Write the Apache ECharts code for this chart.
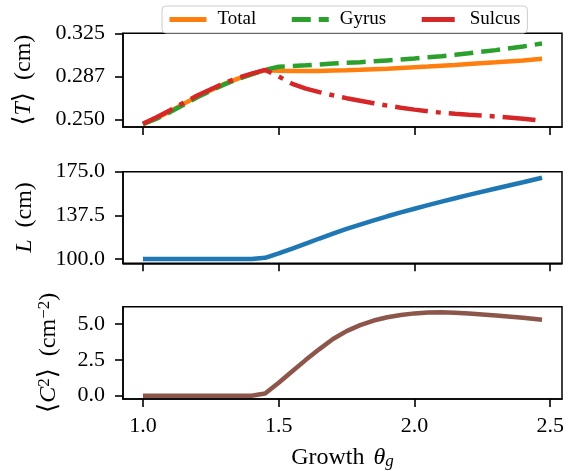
<!DOCTYPE html>
<html>
<head>
<meta charset="utf-8">
<script src="https://cdn.jsdelivr.net/npm/echarts@6/dist/echarts.min.js"></script>
<style>
html,body{margin:0;padding:0;background:#fff;}
#chart{width:579px;height:471px;}
</style>
</head>
<body>
<div id="chart"></div>
<script>
// ---- data ----
var theta   = [1.00,1.05,1.10,1.15,1.20,1.25,1.30,1.35,1.40,1.45,1.50,1.55,1.60,1.65,1.70,1.75,1.80,1.85,1.90,1.95,2.00,2.05,2.10,2.15,2.20,2.30,2.40,2.47];
var totalT  = [0.2460,0.2510,0.2570,0.2635,0.2700,0.2755,0.2810,0.2855,0.2895,0.2930,0.2925,0.2922,0.2922,0.2923,0.2926,0.2929,0.2933,0.2938,0.2943,0.2949,0.2955,0.2961,0.2968,0.2975,0.2983,0.2998,0.3015,0.3030];
var gyrusT  = [0.2458,0.2505,0.2563,0.2628,0.2693,0.2750,0.2805,0.2852,0.2893,0.2932,0.2960,0.2966,0.2972,0.2980,0.2988,0.2994,0.3000,0.3007,0.3015,0.3023,0.3032,0.3042,0.3052,0.3064,0.3077,0.3105,0.3137,0.3163];
var sulcusT = [0.2462,0.2518,0.2580,0.2645,0.2708,0.2763,0.2818,0.2862,0.2900,0.2932,0.2875,0.2810,0.2768,0.2738,0.2710,0.2685,0.2663,0.2641,0.2620,0.2602,0.2585,0.2570,0.2558,0.2548,0.2540,0.2525,0.2505,0.2488];
var lengthL = [100,100,100,100,100,100,100,100,100,101.0,104.8,109.0,113.3,117.6,121.8,125.8,129.6,133.2,136.7,140.0,143.2,146.3,149.3,152.2,155.1,160.6,166.0,169.8];
var curvC2  = [0,0,0,0,0,0,0,0,0,0.15,0.90,1.70,2.50,3.25,3.95,4.50,4.92,5.24,5.47,5.63,5.74,5.80,5.82,5.79,5.73,5.60,5.44,5.30];

var xTicks = [1.0,1.5,2.0,2.5];
var xTickLabels = ['1.0','1.5','2.0','2.5'];
var tTicks = [0.25,0.2875,0.325];
var tTickLabels = ['0.250','0.287','0.325'];
var lTicks = [100,137.5,175];
var lTickLabels = ['100.0','137.5','175.0'];
var cTicks = [0,2.5,5];
var cTickLabels = ['0.0','2.5','5.0'];

var seriesNames = ['Total','Gyrus','Sulcus'];

// ---- chart ----
var FONT = "'Liberation Serif','DejaVu Serif',serif";
function pairs(ys){ return theta.map(function(x,i){ return [x, ys[i]]; }); }
function labelFor(vals, labs){
  return function(v){
    for (var i=0;i<vals.length;i++){ if (Math.abs(vals[i]-v) < 1e-9) return labs[i]; }
    return '';
  };
}
var grids = [
  {left:123, right:17, top:33.3, height:93.7},
  {left:123, right:17, top:171.7, height:91.6},
  {left:123, right:17, top:306.7, height:92.3}
];
grids.forEach(function(g){ g.show = true; g.borderColor = '#000'; g.borderWidth = 1.5; g.containLabel = false; });

function xAxis(idx, showLabels){
  var ax = {
    type:'value', gridIndex: idx, min: 0.9265, max: 2.5435,
    splitLine:{show:false},
    axisLine:{show:true, onZero:false, lineStyle:{color:'#000', width:1.5}},
    axisTick:{show:true, length:8, customValues:xTicks, lineStyle:{color:'#000', width:1.6}},
    axisLabel:{show:showLabels, customValues:xTicks, formatter:labelFor(xTicks,xTickLabels),
               margin:16, color:'#000', fontFamily:FONT, fontSize:22}
  };
  if (showLabels){
    ax.name = '{t|Growth }{i|θ}{s|g}';
    ax.nameLocation = 'middle';
    ax.nameGap = 47;
    ax.nameTextStyle = {color:'#000', rich:{
      t:{fontFamily:FONT, fontSize:24, color:'#000'},
      i:{fontFamily:FONT, fontSize:24, fontStyle:'italic', color:'#000', padding:[0,0,0,3]},
      s:{fontFamily:FONT, fontSize:17, fontStyle:'italic', color:'#000', verticalAlign:'bottom', lineHeight:6}
    }};
  }
  return ax;
}
function yAxis(idx, min, max, ticks, labs, name, gap, rich){
  return {
    type:'value', gridIndex: idx, min:min, max:max,
    splitLine:{show:false},
    axisLine:{show:true, onZero:false, lineStyle:{color:'#000', width:1.5}},
    axisTick:{show:true, length:8, customValues:ticks, lineStyle:{color:'#000', width:1.6}},
    axisLabel:{customValues:ticks, formatter:labelFor(ticks,labs), margin:18,
               color:'#000', fontFamily:FONT, fontSize:22},
    name:name, nameLocation:'middle', nameGap:gap, nameRotate:90,
    nameTextStyle:{color:'#000', rich:rich}
  };
}
var base = {fontFamily:FONT, fontSize:24, color:'#000'};
var brk  = {fontFamily:"'DejaVu Serif',serif", fontSize:26, color:'#000', fontWeight:'lighter'};
var ital = {fontFamily:FONT, fontSize:24, color:'#000', fontStyle:'italic'};
var sup  = {fontFamily:FONT, fontSize:17, color:'#000', verticalAlign:'top', lineHeight:6};

var chart = echarts.init(document.getElementById('chart'), null, {renderer:'canvas'});
chart.setOption({
  animation:false,
  backgroundColor:'#fff',
  legend:{
    data: seriesNames,
    left:162, top:6, orient:'horizontal',
    padding:[4,7,4,5], itemGap:33, itemWidth:37, itemHeight:14,
    borderColor:'#cccccc', borderWidth:1, borderRadius:4,
    backgroundColor:'rgba(255,255,255,0.85)',
    itemStyle:{opacity:0, borderWidth:0},
    lineStyle:{width:5},
    textStyle:{fontFamily:FONT, fontSize:19, color:'#000', padding:[0,0,0,6]}
  },
  grid: grids,
  xAxis: [xAxis(0,false), xAxis(1,false), xAxis(2,true)],
  yAxis: [
    yAxis(0, 0.2433, 0.3252, tTicks, tTickLabels, '{b|⟨}{i|T}{b|⟩}{a|  (cm)}', 86, {a:base, i:ital, b:brk}),
    yAxis(1, 96.3, 175.01, lTicks, lTickLabels, '{i|L}{a|  (cm)}', 86, {a:base, i:ital}),
    yAxis(2, -0.23, 6.206, cTicks, cTickLabels, '{b|⟨}{i|C}{p|2}{b|⟩}{a|  (cm}{p|−2}{a|)}', 61, {a:base, i:ital, p:sup, b:brk})
  ],
  series: [
    {name:'Total', type:'line', xAxisIndex:0, yAxisIndex:0, data:pairs(totalT), symbol:'none',
     lineStyle:{color:'#ff7f0e', width:4.5}, itemStyle:{color:'#ff7f0e'}, z:2},
    {name:'Gyrus', type:'line', xAxisIndex:0, yAxisIndex:0, data:pairs(gyrusT), symbol:'none',
     lineStyle:{color:'#2ca02c', width:4.5, type:[19,8], cap:'butt'}, itemStyle:{color:'#2ca02c'}, z:3},
    {name:'Sulcus', type:'line', xAxisIndex:0, yAxisIndex:0, data:pairs(sulcusT), symbol:'none',
     lineStyle:{color:'#d62728', width:4.5, type:[33,8,5,8], cap:'butt'}, itemStyle:{color:'#d62728'}, z:4},
    {name:'L', type:'line', xAxisIndex:1, yAxisIndex:1, data:pairs(lengthL), symbol:'none',
     lineStyle:{color:'#1f77b4', width:4.5}, itemStyle:{color:'#1f77b4'}},
    {name:'C2', type:'line', xAxisIndex:2, yAxisIndex:2, data:pairs(curvC2), symbol:'none',
     lineStyle:{color:'#8c564b', width:4.5}, itemStyle:{color:'#8c564b'}}
  ]
});
</script>
</body>
</html>
